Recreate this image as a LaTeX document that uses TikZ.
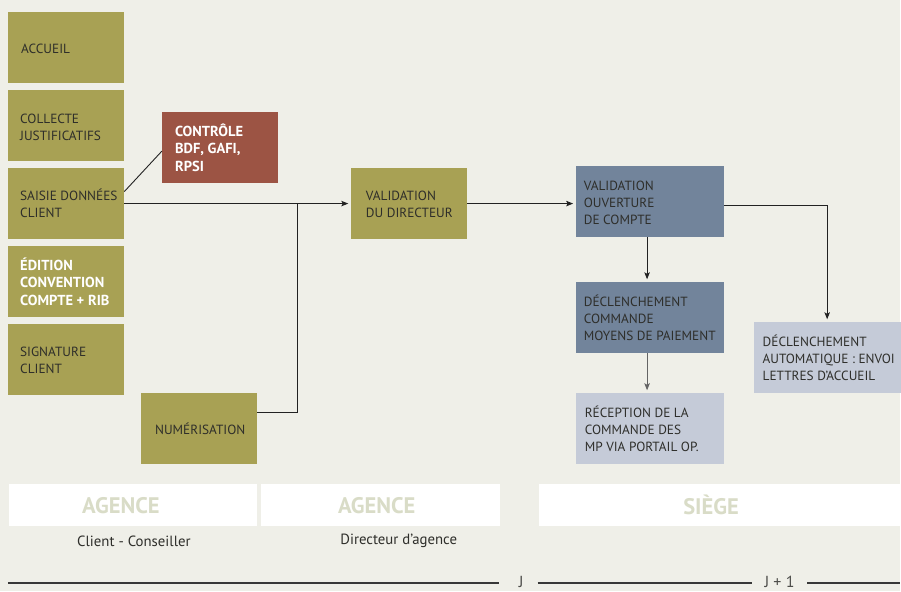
\documentclass[tikz,border=0pt]{standalone}
\usepackage{fontspec}
\setmainfont{PT Sans}
\usetikzlibrary{arrows.meta}
\definecolor{bg}{HTML}{EFEFE8}
\definecolor{olive}{HTML}{A8A154}
\definecolor{brick}{HTML}{9C5444}
\definecolor{slate}{HTML}{72849B}
\definecolor{pale}{HTML}{C5CBD8}
\definecolor{txt}{HTML}{2E2E2A}
\definecolor{bandtxt}{HTML}{D9DCC7}
\definecolor{linec}{HTML}{222222}
\newcommand{\boxfont}{\fontsize{13.3}{17}\selectfont}
\newcommand{\boldboxfont}{\fontsize{14.5}{17.5}\selectfont\bfseries}
% fixed-width text block with a left padding, lowered slightly
\newcommand{\bt}[3]{\makebox[#1pt][l]{\raisebox{-2.5pt}[\height][\depth]{\begin{tabular}{@{\hspace{#2pt}}l@{}}#3\end{tabular}}}}
\begin{document}
\begin{tikzpicture}[x=1pt,y=-1pt,
  bx/.style={rectangle, anchor=north west, minimum height=71, inner xsep=0, inner ysep=0, font=\boxfont, text=txt},
  obox/.style={bx, fill=olive},
  wbold/.style={text=white, font=\boldboxfont},
  rbox/.style={bx, fill=brick},
  sbox/.style={bx, fill=slate},
  pbox/.style={bx, fill=pale},
  band/.style={rectangle, anchor=north west, fill=white, minimum height=41.5, inner sep=0},
  bandlbl/.style={text=bandtxt, font=\fontsize{22.5}{24}\selectfont\bfseries, inner sep=0},
  lbl/.style={text=txt, font=\fontsize{14.8}{17}\selectfont},
  conn/.style={draw=linec, line width=0.9pt},
  arr/.style={conn, -{Stealth[length=7pt,width=5.5pt,inset=1.5pt]}, shorten >=2.5pt},
  tl/.style={draw=linec!90, line width=1.2pt}
]
\fill[bg] (0,0) rectangle (901,591);

% left column
\node[obox] (accueil) at (8,12) {\bt{116}{13}{ACCUEIL}};
\node[obox] (collecte) at (8,90) {\bt{116}{12}{COLLECTE\\JUSTIFICATIFS}};
\node[obox] (saisie) at (8,168) {\bt{116}{12}{SAISIE DONNÉES\\CLIENT}};
\node[obox, wbold] (edition) at (8,246) {\bt{116}{12}{ÉDITION\\CONVENTION\\COMPTE + RIB}};
\node[obox] (signature) at (8,324) {\bt{116}{12}{SIGNATURE\\CLIENT}};

\node[rbox, wbold] (controle) at (162,112) {\bt{116}{13}{CONTRÔLE\\BDF, GAFI,\\RPSI}};
\node[obox] (numer) at (141,393) {\bt{116}{14}{NUMÉRISATION}};

\node[obox] (valdir) at (351,168) {\bt{116}{15}{VALIDATION\\DU DIRECTEUR}};

\node[sbox] (valouv) at (576,166) {\bt{148}{8}{VALIDATION\\OUVERTURE\\DE COMPTE}};
\node[sbox] (declcmd) at (576,282) {\bt{148}{8}{DÉCLENCHEMENT\\COMMANDE\\MOYENS DE PAIEMENT}};
\node[pbox] (recep) at (576,393) {\bt{148}{9}{RÉCEPTION DE LA\\COMMANDE DES\\MP VIA PORTAIL OP.}};
\node[pbox] (declauto) at (754,322) {\bt{147}{9}{DÉCLENCHEMENT\\AUTOMATIQUE : ENVOI\\LETTRES D'ACCUEIL}};

% connectors
\coordinate (junc) at (298,203.5);
\draw[conn] ([yshift=12pt]saisie.east) -- ([yshift=-3.5pt]controle.west);
\draw[arr] (saisie.east) -- (valdir.west);
\draw[conn] ([yshift=15.5pt]numer.east) -| (junc);
\draw[arr] (valdir.east) -- (valouv.west |- valdir.east);
\draw[arr] ([xshift=-2.7pt]valouv.south) -- ([xshift=-2.7pt]declcmd.north);
\draw[arr, draw=linec!70] ([xshift=-2.7pt]declcmd.south) -- ([xshift=-2.7pt]recep.north);
\draw[arr] ([yshift=-3.5pt]valouv.east) -| (declauto.north);

% bands
\node[band, minimum width=248] (b1) at (9,484.5) {};
\node[band, minimum width=239] (b2) at (261,484.5) {};
\node[band, minimum width=362] (b3) at (539,484.5) {};
\node[bandlbl] (b1t) at (121,505.5) {AGENCE};
\node[bandlbl] (b2t) at (377,505.5) {AGENCE};
\node[bandlbl] (b3t) at (711.5,505.5) {SIÈGE};
\node[lbl] (l1) at (134,541.5) {Client - Conseiller};
\node[lbl] (l2) at (399,541.5) {Directeur d'agence};

% timeline
\coordinate (t0) at (8,583.3);
\coordinate (t1) at (499,583.3);
\coordinate (t2) at (538,583.3);
\coordinate (t3) at (752,583.3);
\coordinate (t4) at (808,583.3);
\coordinate (t5) at (901,583.3);
\node[lbl, text=txt!85, font=\fontsize{16}{18}\selectfont] (j) at (521.5,582.5) {J};
\node[lbl, text=txt!85, font=\fontsize{16}{18}\selectfont] (j1) at (780,582.5) {J + 1};
\draw[tl] (t0) -- (t1);
\draw[tl] (t2) -- (t3);
\draw[tl] (t4) -- (t5);
\end{tikzpicture}
\end{document}
